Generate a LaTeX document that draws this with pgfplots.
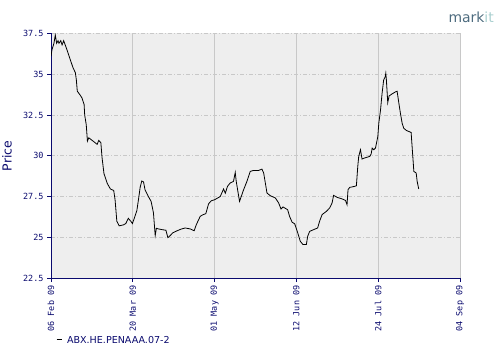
\documentclass[border=0pt]{standalone}
\usepackage{pgfplots}
\pgfplotsset{compat=1.18}
\usepackage{fontspec}
\setmainfont{DejaVu Sans}
\newfontfamily\monofont{DejaVu Sans Mono}
\definecolor{navy}{HTML}{0A0A6E}
\definecolor{bggray}{HTML}{EEEEEE}
\definecolor{gridgray}{HTML}{C8C8C8}
\definecolor{markdark}{HTML}{4D6B7E}
\definecolor{marklight}{HTML}{A9CFCF}
\begin{document}
\begin{tikzpicture}[x=1bp,y=1bp]
\path[use as bounding box] (0,0) rectangle (500,360);
\begin{axis}[
  at={(51bp,82bp)}, anchor=south west,
  scale only axis, width=409bp, height=244.5bp,
  xmin=0, xmax=210, ymin=22.5, ymax=37.5,
  axis x line*=bottom, axis y line*=left,
  axis line style={navy, line width=0.9bp},
  axis background/.style={fill=bggray},
  xtick={0,42,84,126,168,210},
  xticklabels={06 Feb 09,20 Mar 09,01 May 09,12 Jun 09,24 Jul 09,04 Sep 09},
  ytick={22.5,25,27.5,30,32.5,35,37.5},
  yticklabels={22.5,25,27.5,30,32.5,35,37.5},
  tick align=outside, major tick length=4bp,
  tick style={navy, line width=0.8bp},
  xmajorgrids, ymajorgrids,
  major x grid style={solid, gridgray, line width=0.8bp},
  major y grid style={gridgray, line width=0.8bp, dash pattern=on 4bp off 2bp on 1bp off 2bp},
  x tick label style={rotate=90, anchor=east, font=\monofont\fontsize{8.5}{9}\selectfont, text=navy},
  y tick label style={font=\monofont\fontsize{8.5}{9}\selectfont, text=navy},
  legend style={at={(0.005,-0.258)}, anchor=west, draw=none, fill=none,
    font=\fontsize{9.6}{11}\selectfont, text=navy},
  legend image code/.code={\draw[#1, line width=0.8bp] (0bp,1.8bp) -- (5bp,1.8bp);},
  legend cell align=left,
]
\addplot[black, line width=0.8bp] coordinates {
(0,36.1) (0.5,36.5) (1.5,36.9) (2.2,37.4) (2.9,36.9) (3.6,37.06) (4.1,36.9) (5.0,37.06)
(5.7,36.8) (6.5,37.06) (7.9,36.6) (9.6,36.0) (11.3,35.4) (12.5,35.1) (13.0,34.67)
(13.5,33.96) (14.8,33.75) (15.9,33.55) (17.0,33.14) (17.3,32.5) (18.1,31.9) (18.7,30.9)
(19.4,31.1) (21.6,30.9) (23.7,30.7) (24.5,30.94) (25.6,30.8) (26.2,29.9) (27.2,28.9)
(28.9,28.3) (30.5,27.96) (32.2,27.87) (32.9,27.3) (33.8,25.98) (35.0,25.7) (37.2,25.76)
(38.4,25.84) (39.7,26.16) (41.0,25.98) (41.8,25.84) (42.8,26.18) (44.1,26.65) (44.9,27.3)
(45.8,28.08) (46.6,28.45) (47.5,28.4) (48.3,27.9) (50.0,27.5) (51.4,27.2) (52.6,26.5)
(53.5,25.1) (54.1,25.55) (55.2,25.51) (56.9,25.47) (59.0,25.43) (60.0,24.98) (61.2,25.1)
(62.4,25.26) (64.6,25.39) (66.8,25.5) (68.9,25.57) (71.5,25.51) (73.5,25.4) (74.6,25.77)
(76.6,26.28) (77.8,26.37) (79.5,26.45) (80.9,27.05) (82.3,27.24) (84.0,27.3) (86.9,27.5)
(88.6,27.96) (89.5,27.7) (90.6,28.12) (92.0,28.33) (93.7,28.43) (94.6,28.98) (95.1,28.43)
(96.8,27.2) (98.9,27.92) (100.6,28.43) (102.3,29.04) (104.0,29.1) (106.6,29.1) (108.3,29.18)
(109.2,28.94) (110.9,27.71) (112.6,27.55) (115.2,27.41) (116.9,27.1) (118.1,26.73)
(119.1,26.86) (121.5,26.69) (122.5,26.28) (123.8,25.92) (125.1,25.83) (126.6,25.3)
(128.0,24.75) (129.4,24.55) (131.1,24.55) (131.8,25.06) (132.8,25.36) (134.9,25.47)
(136.9,25.57) (137.9,25.98) (139.2,26.39) (141.4,26.59) (143.1,26.8) (144.3,27.1)
(145.1,27.57) (146.9,27.45) (149.5,27.35) (151.2,27.26) (152.0,27.0) (152.5,27.92)
(153.4,28.06) (155.8,28.12) (156.8,28.16) (157.5,29.34) (158.0,29.96) (158.9,30.37)
(159.7,29.8) (160.9,29.86) (163.7,29.96) (164.4,30.12) (164.9,30.47) (165.7,30.37)
(166.6,30.47) (167.8,31.18) (168.3,31.99) (169.2,32.82) (170.0,33.84) (170.8,34.65)
(171.6,34.85) (171.9,35.06) (172.2,34.65) (172.9,33.26) (173.6,33.67) (175.2,33.8)
(176.9,33.92) (177.7,33.96) (178.6,33.23) (179.4,32.61) (180.3,31.99) (181.1,31.69)
(182.5,31.55) (184.9,31.43) (185.4,30.57) (186.3,29.04) (187.5,28.94) (188.0,28.43)
(188.8,27.96)
};
\addlegendentry{\hspace{3bp}ABX.HE.PENAAA.07-2}
\end{axis}
\node[rotate=90, text=navy, font=\fontsize{12.5}{14}\selectfont] at (7,204) {Price};
\node[anchor=east, font=\fontsize{14}{16}\selectfont, inner sep=0pt] at (494,343) {\textcolor{markdark}{mark}\textcolor{marklight}{it}};
\end{tikzpicture}
\end{document}
